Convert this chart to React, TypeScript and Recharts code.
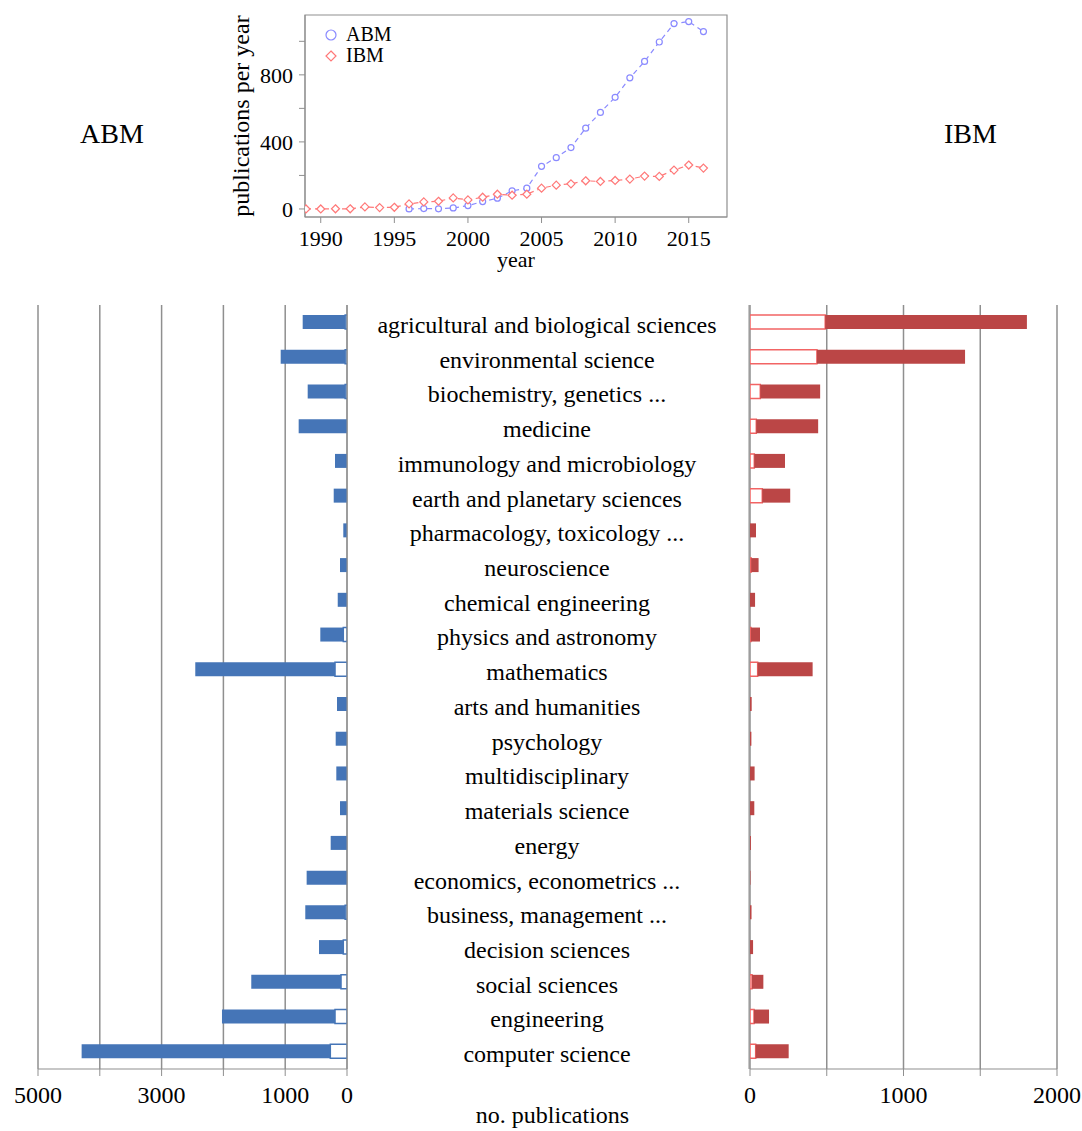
import React from 'react';
import {
  LineChart,
  Line,
  BarChart,
  Bar,
  XAxis,
  YAxis,
  CartesianGrid,
  Legend,
  ReferenceArea,
} from 'recharts';

// yearly publication counts
const years = [
  1989, 1990, 1991, 1992, 1993, 1994, 1995, 1996, 1997, 1998, 1999, 2000, 2001, 2002,
  2003, 2004, 2005, 2006, 2007, 2008, 2009, 2010, 2011, 2012, 2013, 2014, 2015, 2016,
];
const abmPerYear = [
  null, null, null, null, null, null, null, 0, 2, 1, 6, 20, 44, 64,
  108, 124, 254, 306, 366, 482, 576, 666, 782, 880, 996, 1106, 1118, 1058,
];
const ibmPerYear = [
  0, 0, 1, 1, 12, 8, 10, 30, 42, 46, 66, 54, 70, 88,
  82, 88, 124, 142, 150, 168, 164, 170, 178, 196, 194, 232, 262, 244,
];
const yearTicks = [1990, 1995, 2000, 2005, 2010, 2015];
const perYearTicks = [0, 200, 400, 600, 800, 1000];

// publications per subject area (open part of each bar = shared, filled = the rest)
const subjects = [
  'agricultural and biological sciences',
  'environmental science',
  'biochemistry, genetics ...',
  'medicine',
  'immunology and microbiology',
  'earth and planetary sciences',
  'pharmacology, toxicology ...',
  'neuroscience',
  'chemical engineering',
  'physics and astronomy',
  'mathematics',
  'arts and humanities',
  'psychology',
  'multidisciplinary',
  'materials science',
  'energy',
  'economics, econometrics ...',
  'business, management ...',
  'decision sciences',
  'social sciences',
  'engineering',
  'computer science',
];
const abmShared = [30, 30, 30, 0, 0, 0, 0, 0, 0, 60, 194, 0, 0, 0, 0, 0, 0, 30, 60, 97, 194, 270];
const abmOnly = [687, 1043, 606, 782, 194, 215, 60, 113, 150, 372, 2261, 162, 183, 173, 113, 264, 653, 645, 393, 1452, 1829, 4024];
const ibmShared = [490, 436, 67, 41, 28, 80, 0, 8, 0, 6, 50, 0, 0, 0, 0, 0, 0, 0, 0, 13, 26, 37];
const ibmOnly = [1314, 965, 390, 403, 200, 182, 39, 48, 33, 59, 358, 11, 9, 30, 28, 6, 3, 10, 20, 74, 98, 215];
const abmTicks = [0, 1000, 2000, 3000, 4000, 5000];
const ibmTicks = [0, 500, 1000, 1500, 2000];

const SERIF = '"Liberation Serif", "Times New Roman", serif';
const AXIS = '#8f8f8f';
const ABM_LINE = '#8a8aff';
const IBM_LINE = '#ff7878';
const ABM_BAR = '#4575b7';
const IBM_BAR = '#bb4646';
const IBM_EDGE = '#f26464';

const trend = years.map((year, i) => ({ year, abm: abmPerYear[i], ibm: ibmPerYear[i] }));
const subjectRows = subjects.map((subject, i) => ({
  subject,
  abmShared: abmShared[i],
  abmOnly: abmOnly[i],
  ibmShared: ibmShared[i],
  ibmOnly: ibmOnly[i],
}));
// tick marks between the category bands
const bandEdges = subjects.map((_, i) => i).concat(subjects.length);

// serif tick label; side="y" centres it on the tick vertically
function SerifTick({ x, y, payload, textAnchor, size, fmt, side }: any) {
  const label = fmt ? fmt(payload.value) : String(payload.value);
  if (!label) return <g />;
  return (
    <text
      x={x}
      y={y}
      dy={side === 'y' ? '0.35em' : '0.71em'}
      textAnchor={textAnchor}
      fontFamily={SERIF}
      fontSize={size}
      fill="#000"
    >
      {label}
    </text>
  );
}

function SubjectTick({ y, payload }: any) {
  return (
    <text x={187} y={y} dy="0.44em" textAnchor="middle" fontFamily={SERIF} fontSize={24} fill="#000">
      {payload.value}
    </text>
  );
}

function Diamond(props: any) {
  const { cx, cy, index } = props;
  if (cx == null || cy == null) return <g key={`ibm-dot-${index}`} />;
  return (
    <path
      key={`ibm-dot-${index}`}
      d={`M${cx},${cy - 4}L${cx + 4},${cy}L${cx},${cy + 4}L${cx - 4},${cy}Z`}
      fill="#fff"
      stroke={IBM_LINE}
      strokeWidth={1.2}
    />
  );
}

function TrendLegend({ payload }: any) {
  return (
    <div style={{ fontFamily: SERIF, fontSize: 20, lineHeight: '21px', color: '#000' }}>
      {(payload || []).map((item: any) => (
        <div key={item.value} style={{ display: 'flex', alignItems: 'center', height: 21 }}>
          <svg width={14} height={14} style={{ marginRight: 8 }}>
            {item.dataKey === 'ibm' ? (
              <path d="M7,2L12,7L7,12L2,7Z" fill="#fff" stroke={IBM_LINE} strokeWidth={1.2} />
            ) : (
              <circle cx={7} cy={7} r={5} fill="#fff" stroke={ABM_LINE} strokeWidth={1.2} />
            )}
          </svg>
          <span>{item.value}</span>
        </div>
      ))}
    </div>
  );
}

const everyFourHundred = (v: number) => (v % 400 === 0 ? String(v) : '');
const oddThousands = (v: number) => (v === 0 || (v / 1000) % 2 === 1 ? String(v) : '');
const wholeThousands = (v: number) => (v % 1000 === 0 ? String(v) : '');

export default function App() {
  return (
    <div style={{ position: 'absolute', left: 0, top: 0, width: 1082, height: 1131, background: '#fff', fontFamily: SERIF }}>
      <div style={{ position: 'absolute', left: 80, top: 120, fontSize: 28, lineHeight: '28px' }}>ABM</div>
      <div style={{ position: 'absolute', left: 944, top: 120, fontSize: 28, lineHeight: '28px' }}>IBM</div>

      <div style={{ position: 'absolute', left: 220, top: 0 }}>
        <LineChart width={560} height={280} data={trend} margin={{ top: 15, right: 53, bottom: 13, left: 15 }}>
          <XAxis
            dataKey="year"
            type="number"
            domain={[1988.93, 2017.6]}
            ticks={yearTicks}
            allowDataOverflow
            height={50}
            tickSize={6}
            tickMargin={7}
            stroke={AXIS}
            tick={<SerifTick size={22} />}
            label={{ value: 'year', position: 'insideBottom', offset: 0, fill: '#000', fontSize: 22, fontFamily: SERIF }}
          />
          <YAxis
            type="number"
            domain={[-48, 1157]}
            ticks={perYearTicks}
            allowDataOverflow
            width={70}
            tickSize={6}
            tickMargin={6}
            stroke={AXIS}
            tick={<SerifTick size={22} fmt={everyFourHundred} side="y" />}
            label={{
              value: 'publications per year',
              angle: -90,
              position: 'insideLeft',
              offset: 5,
              fill: '#000',
              fontSize: 24,
              fontFamily: SERIF,
              style: { textAnchor: 'middle' },
            }}
          />
          <ReferenceArea
            x1={1988.93}
            x2={2017.6}
            y1={-48}
            y2={1157}
            ifOverflow="visible"
            fill="none"
            stroke={AXIS}
            strokeWidth={1.2}
          />
          <Legend
            layout="vertical"
            align="center"
            verticalAlign="middle"
            wrapperStyle={{ top: 24, left: 104, width: 'auto' }}
            content={<TrendLegend />}
          />
          <Line
            dataKey="abm"
            name="ABM"
            stroke={ABM_LINE}
            strokeWidth={1.2}
            strokeDasharray="5 4"
            dot={{ r: 3, fill: '#fff', stroke: ABM_LINE, strokeWidth: 1.2, strokeDasharray: '' }}
            isAnimationActive={false}
          />
          <Line
            dataKey="ibm"
            name="IBM"
            stroke={IBM_LINE}
            strokeWidth={1.2}
            strokeDasharray="5 4"
            dot={(p: any) => <Diamond {...p} />}
            isAnimationActive={false}
          />
        </LineChart>
      </div>

      {/* ABM side, growing to the left */}
      <div style={{ position: 'absolute', left: 0, top: 0 }}>
        <BarChart
          layout="vertical"
          width={360}
          height={1131}
          data={subjectRows}
          margin={{ top: 305, right: 5, bottom: 12, left: 38 }}
          barSize={14}
        >
          <CartesianGrid horizontal={false} stroke={AXIS} strokeWidth={1.5} />
          <XAxis
            type="number"
            domain={[0, 5000]}
            ticks={abmTicks}
            reversed
            allowDataOverflow
            height={50}
            tickSize={7}
            tickMargin={10}
            stroke={AXIS}
            tick={<SerifTick size={24} fmt={oddThousands} />}
          />
          <YAxis type="category" dataKey="subject" hide />
          <YAxis
            yAxisId="edges"
            type="number"
            orientation="right"
            domain={[0, subjects.length]}
            ticks={bandEdges}
            tick={false}
            width={8}
            tickSize={6}
            stroke={AXIS}
          />
          <Bar dataKey="abmShared" stackId="abm" fill="#fff" stroke={ABM_BAR} strokeWidth={1.5} isAnimationActive={false} />
          <Bar dataKey="abmOnly" stackId="abm" fill={ABM_BAR} isAnimationActive={false} />
        </BarChart>
      </div>

      {/* IBM side, growing to the right; subject names sit between the two */}
      <div style={{ position: 'absolute', left: 360, top: 0 }}>
        <BarChart
          layout="vertical"
          width={722}
          height={1131}
          data={subjectRows}
          margin={{ top: 305, right: 25, bottom: 12, left: 381 }}
          barSize={14}
        >
          <CartesianGrid horizontal={false} stroke={AXIS} strokeWidth={1.5} />
          <XAxis
            type="number"
            domain={[0, 2000]}
            ticks={ibmTicks}
            allowDataOverflow
            height={50}
            tickSize={7}
            tickMargin={10}
            stroke={AXIS}
            tick={<SerifTick size={24} fmt={wholeThousands} />}
          />
          <YAxis
            type="category"
            dataKey="subject"
            width={1}
            interval={0}
            axisLine={false}
            tickLine={false}
            tick={<SubjectTick />}
          />
          <YAxis
            yAxisId="edges"
            type="number"
            orientation="left"
            domain={[0, subjects.length]}
            ticks={bandEdges}
            tick={false}
            width={8}
            tickSize={7}
            stroke={AXIS}
          />
          <Bar dataKey="ibmShared" stackId="ibm" fill="#fff" stroke={IBM_EDGE} strokeWidth={1.5} isAnimationActive={false} />
          <Bar dataKey="ibmOnly" stackId="ibm" fill={IBM_BAR} isAnimationActive={false} />
        </BarChart>
      </div>

      <div style={{ position: 'absolute', left: 0, width: 1105, top: 1103, textAlign: 'center', fontSize: 24, lineHeight: '24px' }}>
        no. publications
      </div>
    </div>
  );
}
